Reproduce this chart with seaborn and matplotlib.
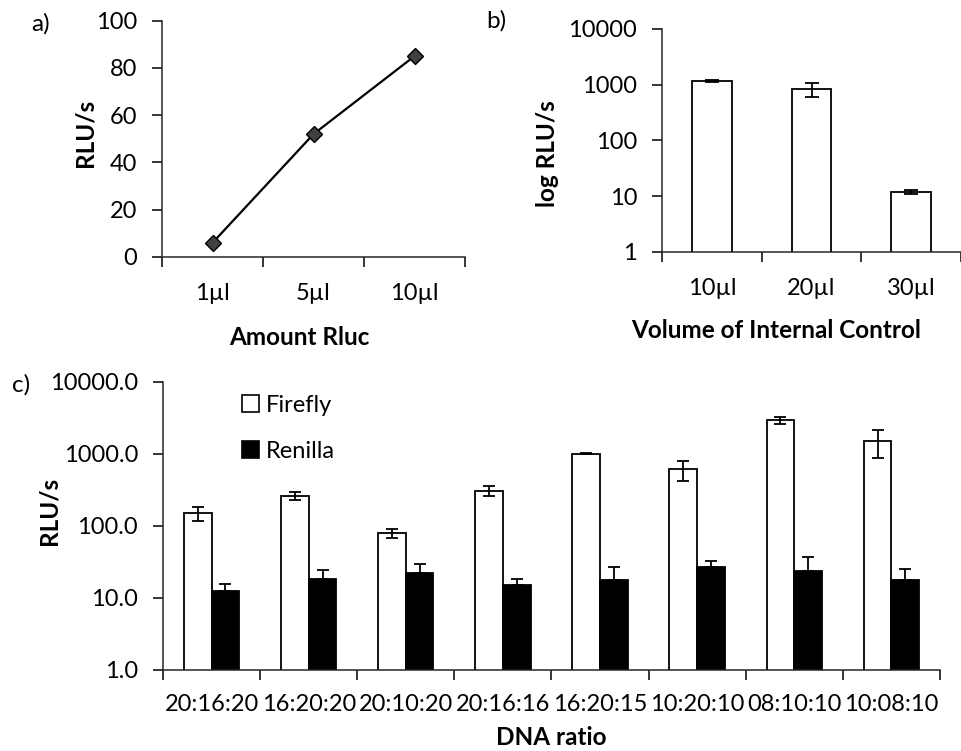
import numpy as np
import pandas as pd
import matplotlib
matplotlib.use("Agg")
import matplotlib.pyplot as plt
import seaborn as sns
from matplotlib.ticker import FixedLocator, NullLocator, FuncFormatter

# a) Rluc amount titration
amounts = ["1µl", "5µl", "10µl"]
rluc_signal = [6, 52, 85]

# b) internal control volume
volumes = ["10µl", "20µl", "30µl"]
volume_signal = [1170, 840, 11.9]
volume_err = [30, 250, 1.1]

# c) DNA ratio screen
ratios = ["20:16:20", "16:20:20", "20:10:20", "20:16:16",
          "16:20:15", "10:20:10", "08:10:10", "10:08:10"]
firefly = [151, 263, 79.5, 308, 1007, 611, 2960, 1500]
firefly_err = [35, 33, 11, 48, 10, 190, 350, 620]
renilla = [12.3, 18.2, 21.9, 14.9, 18.0, 26.8, 23.8, 17.7]
renilla_err = [3.4, 6.1, 7.9, 3.5, 9.1, 5.7, 13.5, 7.4]

sns.set_style("ticks")
plt.rcParams["font.family"] = ["Lato", "DejaVu Sans"]
plt.rcParams["axes.linewidth"] = 1.1
plt.rcParams["text.color"] = "black"
plt.rcParams["axes.labelcolor"] = "black"
plt.rcParams["xtick.color"] = "black"
plt.rcParams["ytick.color"] = "black"

TICK_FS = 17
LABEL_FS = 17.5

fig = plt.figure(figsize=(9.61, 7.51), dpi=100)


def excel_axes(ax, n, xpad=19):
    """Category ticks between groups, outward ticks, left/bottom spines only."""
    sns.despine(ax=ax)
    ax.set_xlim(-0.5, n - 0.5)
    ax.xaxis.set_minor_locator(FixedLocator(np.arange(-0.5, n, 1.0)))
    ax.tick_params(axis="x", which="major", length=0, pad=xpad, labelsize=TICK_FS)
    ax.tick_params(axis="x", which="minor", length=7, width=1.1, direction="out")
    ax.tick_params(axis="y", which="major", length=7, width=1.1, direction="out",
                   labelsize=TICK_FS, pad=11)
    ax.tick_params(axis="y", which="minor", length=0)


def place_labels(ax, xlab, ylab, xc, yc):
    ax.set_xlabel(xlab, fontsize=LABEL_FS, fontweight="bold")
    ax.set_ylabel(ylab, fontsize=LABEL_FS, fontweight="bold")
    ax.xaxis.set_label_coords(*xc)
    ax.yaxis.set_label_coords(*yc)
    ax.xaxis.label.set_va("center")
    ax.yaxis.label.set_va("center")


# ---- a) ----
ax_a = fig.add_axes([0.1686, 0.6578, 0.3153, 0.3147])
df_a = pd.DataFrame({"amount": amounts, "rlu": rluc_signal})
sns.pointplot(data=df_a, x="amount", y="rlu", color="black", markers="D",
              linewidth=1.6, markersize=8, ax=ax_a)
for ln in ax_a.lines:
    ln.set_markerfacecolor("#404040")
    ln.set_markeredgecolor("black")
    ln.set_markeredgewidth(1.0)
excel_axes(ax_a, len(amounts))
ax_a.set_ylim(0, 100)
ax_a.set_yticks(np.arange(0, 101, 20))
place_labels(ax_a, "Amount Rluc", "RLU/s", (0.452, -0.339), (-0.254, 0.525))
fig.text(0.033, 0.968, "a)", fontsize=LABEL_FS, va="center", ha="left")

# ---- b) ----
ax_b = fig.add_axes([0.6889, 0.6645, 0.3111, 0.2970])
df_b = pd.DataFrame({"volume": volumes, "rlu": volume_signal})
sns.barplot(data=df_b, x="volume", y="rlu", color="white", edgecolor="black",
            linewidth=1.3, width=0.4, errorbar=None, ax=ax_b)
ax_b.set_yscale("log")
ax_b.set_ylim(1, 10000)
bx = [p.get_x() + p.get_width() / 2 for p in ax_b.patches]
ax_b.errorbar(bx, volume_signal, yerr=volume_err, fmt="none", ecolor="black",
              elinewidth=1.3, capsize=5, capthick=1.3)
excel_axes(ax_b, len(volumes))
ax_b.yaxis.set_major_locator(FixedLocator([1, 10, 100, 1000, 10000]))
ax_b.yaxis.set_minor_locator(NullLocator())
ax_b.yaxis.set_major_formatter(FuncFormatter(lambda v, _: f"{v:.0f}"))
place_labels(ax_b, "Volume of Internal Control", "log RLU/s",
             (0.38, -0.35), (-0.383, 0.44))
fig.text(0.506, 0.972, "b)", fontsize=LABEL_FS, va="center", ha="left")

# ---- c) ----
ax_c = fig.add_axes([0.1696, 0.1079, 0.8085, 0.3835])
df_c = pd.DataFrame({
    "ratio": ratios * 2,
    "rlu": firefly + renilla,
    "reporter": ["Firefly"] * len(ratios) + ["Renilla"] * len(ratios),
})
sns.barplot(data=df_c, x="ratio", y="rlu", hue="reporter",
            palette={"Firefly": "white", "Renilla": "black"},
            edgecolor="black", linewidth=1.3, width=0.57, errorbar=None, ax=ax_c)
ax_c.set_yscale("log")
ax_c.set_ylim(1, 10000)
ff_bars, rn_bars = ax_c.containers[0], ax_c.containers[1]
fx = [p.get_x() + p.get_width() / 2 for p in ff_bars]
rx = [p.get_x() + p.get_width() / 2 for p in rn_bars]
ax_c.errorbar(fx, firefly, yerr=firefly_err, fmt="none", ecolor="black",
              elinewidth=1.3, capsize=4.5, capthick=1.3)
ax_c.errorbar(rx, renilla, yerr=[[0] * len(renilla), renilla_err], fmt="none",
              ecolor="black", elinewidth=1.3, capsize=4.5, capthick=1.3)
excel_axes(ax_c, len(ratios), xpad=17)
ax_c.yaxis.set_major_locator(FixedLocator([1, 10, 100, 1000, 10000]))
ax_c.yaxis.set_minor_locator(NullLocator())
ax_c.yaxis.set_major_formatter(FuncFormatter(lambda v, _: f"{v:.1f}"))
place_labels(ax_c, "DNA ratio", "RLU/s", (0.5, -0.233), (-0.147, 0.552))
leg = ax_c.legend(loc="upper left", bbox_to_anchor=(0.102, 0.955), frameon=False,
                  fontsize=TICK_FS, handlelength=0.7, handleheight=0.7,
                  handletextpad=0.3, labelspacing=1.05, borderpad=0, borderaxespad=0)
for h in leg.legend_handles:
    h.set_edgecolor("black")
    h.set_linewidth(1.2)
fig.text(0.012, 0.487, "c)", fontsize=LABEL_FS, va="center", ha="left")

fig.savefig("out.png", dpi=100)
